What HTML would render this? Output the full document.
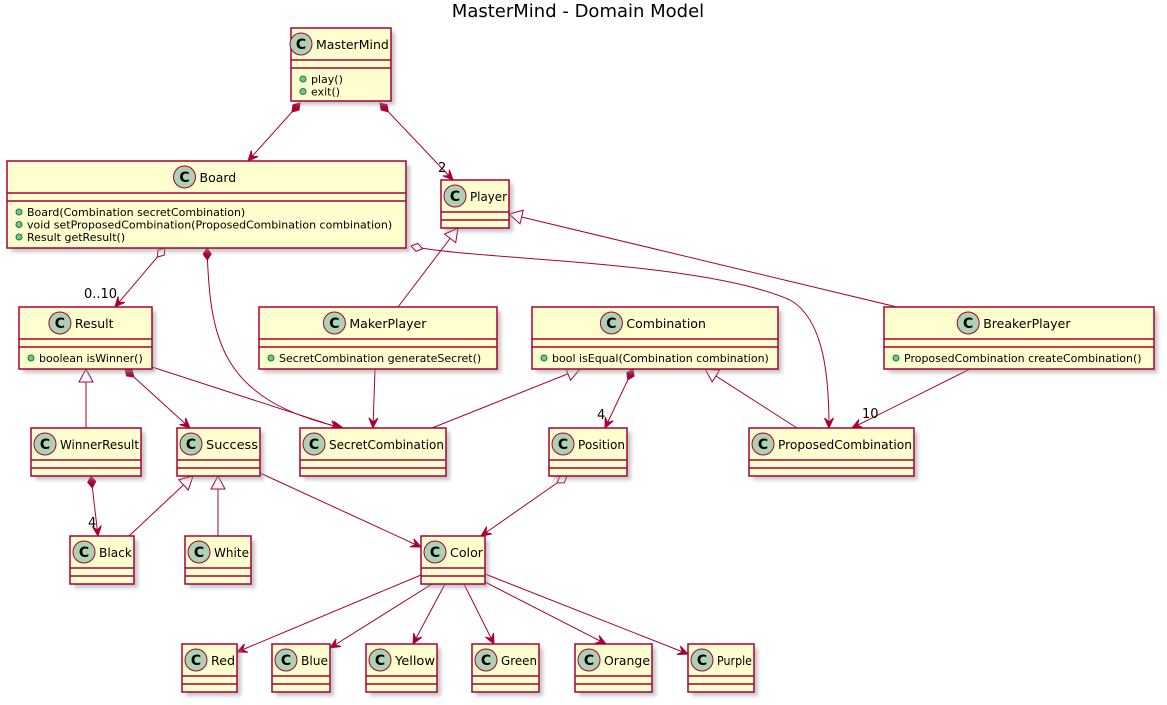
<!DOCTYPE html>
<html><head><meta charset="utf-8"><style>
html,body{margin:0;padding:0;background:#fff;width:1167px;height:705px;overflow:hidden}
svg text{font-family:"DejaVu Sans","Liberation Sans",sans-serif;fill:#000}
</style></head><body>
<svg id="s" width="1167" height="705" xmlns="http://www.w3.org/2000/svg">
<defs>
<filter id="sh" x="-10%" y="-10%" width="130%" height="140%"><feGaussianBlur stdDeviation="1.8"/></filter>
<marker id="ar" markerUnits="userSpaceOnUse" markerWidth="14" markerHeight="12" viewBox="-1 -6 13 12" refX="10" refY="0" orient="auto"><path d="M0,-4.5 L10,0 L0,4.5 L4,0 Z" fill="#A80036" stroke="#A80036"/></marker>
<marker id="dm" markerUnits="userSpaceOnUse" markerWidth="16" markerHeight="12" viewBox="-1 -6 16 12" refX="0" refY="0" orient="auto"><path d="M0,0 L6,-4 L12,0 L6,4 Z" fill="#A80036" stroke="#A80036"/></marker>
<marker id="dh" markerUnits="userSpaceOnUse" markerWidth="16" markerHeight="12" viewBox="-1 -6 16 12" refX="0" refY="0" orient="auto"><path d="M0,0 L6,-4 L12,0 L6,4 Z" fill="#fff" stroke="#A80036"/></marker>
<marker id="tr" markerUnits="userSpaceOnUse" markerWidth="16" markerHeight="16" viewBox="-1 -8 16 16" refX="13" refY="0" orient="auto"><path d="M0,-7 L13,0 L0,7 Z" fill="#fff" stroke="#A80036"/></marker>
</defs>
<text x="578" y="17" font-size="18" text-anchor="middle">MasterMind - Domain Model</text>
<g id="edges" fill="none" stroke="#A80036" stroke-width="1"></g>
<g id="boxes"></g>
<g font-size="13">
<text x="438" y="172">2</text>
<text x="84" y="298">0..10</text>
<text x="597" y="419">4</text>
<text x="862" y="418">10</text>
<text x="88" y="527">4</text>
</g>
</svg>
<script>
var boxes=[
["MasterMind",291,28,100,73,["play()","exit()"]],
["Board",7,161,399,87,["Board(Combination secretCombination)","void setProposedCombination(ProposedCombination combination)","Result getResult()"]],
["Player",441,180,68,48],
["Result",19,307,133,62,["boolean isWinner()"]],
["MakerPlayer",259,307,238,62,["SecretCombination generateSecret()"]],
["Combination",532,307,246,62,["bool isEqual(Combination combination)"]],
["BreakerPlayer",884,307,270,62,["ProposedCombination createCombination()"]],
["WinnerResult",31,428,110,48],
["Success",177,428,83,48],
["SecretCombination",300,428,146,48],
["Position",549,428,78,48],
["ProposedCombination",749,428,165,48],
["Black",70,536,64,48],
["White",185,536,66,48],
["Color",421,536,64,48],
["Red",182,644,55,48],
["Blue",272,644,58,48],
["Yellow",366,644,71,48],
["Green",472,644,67,48],
["Orange",575,644,77,48],
["Purple",688,644,66,48]];
var h='';
boxes.forEach(function(b){
 var n=b[0],x=b[1],y=b[2],w=b[3],ht=b[4],m=b[5];
 var hh=32;
 h+='<rect x="'+(x+4)+'" y="'+(y+4)+'" width="'+w+'" height="'+ht+'" fill="#999" opacity="0.55" filter="url(#sh)"/>';
 h+='<rect x="'+x+'" y="'+y+'" width="'+w+'" height="'+ht+'" fill="#FEFECE" stroke="#A80036" stroke-width="1.5"/>';
 h+='<line x1="'+x+'" y1="'+(y+hh)+'" x2="'+(x+w)+'" y2="'+(y+hh)+'" stroke="#A80036" stroke-width="1.5"/>';
 h+='<line x1="'+x+'" y1="'+(y+hh+8)+'" x2="'+(x+w)+'" y2="'+(y+hh+8)+'" stroke="#A80036" stroke-width="1.5"/>';
 var tw=n.length*7.2+30;
 var cx = m ? x+w/2-tw/2+11 : x+14;
 var cy=y+16;
 h+='<circle cx="'+cx+'" cy="'+cy+'" r="11" fill="#ADD1B2" stroke="#A80036"/>';
 h+='<text x="'+cx+'" y="'+(cy+5)+'" font-size="14" font-weight="bold" text-anchor="middle">C</text>';
 h+='<text x="'+(cx+15)+'" y="'+(cy+5)+'" font-size="12.5"'+(m?'':' textLength="'+(x+w-cx-17)+'" lengthAdjust="spacingAndGlyphs"')+'>'+n+'</text>';
 if(m){m.forEach(function(t,i){
  var yy=y+hh+8+15+i*12.5;
  h+='<circle cx="'+(x+12)+'" cy="'+(yy-4)+'" r="3" fill="#84BE84" stroke="#038048" stroke-width="1"/>';
  h+='<text x="'+(x+20)+'" y="'+yy+'" font-size="11">'+t+'</text>';
 });}
});
document.getElementById('boxes').innerHTML=h;
var E=[
["M300,103 L248,161","dm","ar"],
["M380,103 L453,180","dm","ar"],
["M411,246 C470,260 700,260 790,300 C825,320 829,380 829,428","dh","ar"],
["M398,307 L458,228","","tr"],
["M897,307 L509,214","","tr"],
["M165,248 L115,307","dh","ar"],
["M207,248 C210,340 220,400 343,428","dm","ar"],
["M125,369 L190,428","dm","ar"],
["M152,367 L340,428","","ar"],
["M86,428 L86,369","","tr"],
["M375,369 L373,428","","ar"],
["M432,428 L580,369","","tr"],
["M633,369 L605,428","dm","ar"],
["M797,428 L705,369","","tr"],
["M970,369 L852,428","","ar"],
["M91,476 L98,536","dm","ar"],
["M129,536 L193,476","","tr"],
["M218,536 L218,476","","tr"],
["M260,473 L421,547","","ar"],
["M567,476 L481,536","dh","ar"],
["M421,575 L237,652","","ar"],
["M432,584 L330,648","","ar"],
["M445,584 L413,644","","ar"],
["M464,584 L494,644","","ar"],
["M485,582 L606,644","","ar"],
["M485,574 L688,654","","ar"]];
var e='';
E.forEach(function(a){e+='<path d="'+a[0]+'"'+(a[1]?' marker-start="url(#'+a[1]+')"':'')+(a[2]?' marker-end="url(#'+a[2]+')"':'')+'/>';});
document.getElementById('edges').innerHTML=e;
</script>
</body></html>
